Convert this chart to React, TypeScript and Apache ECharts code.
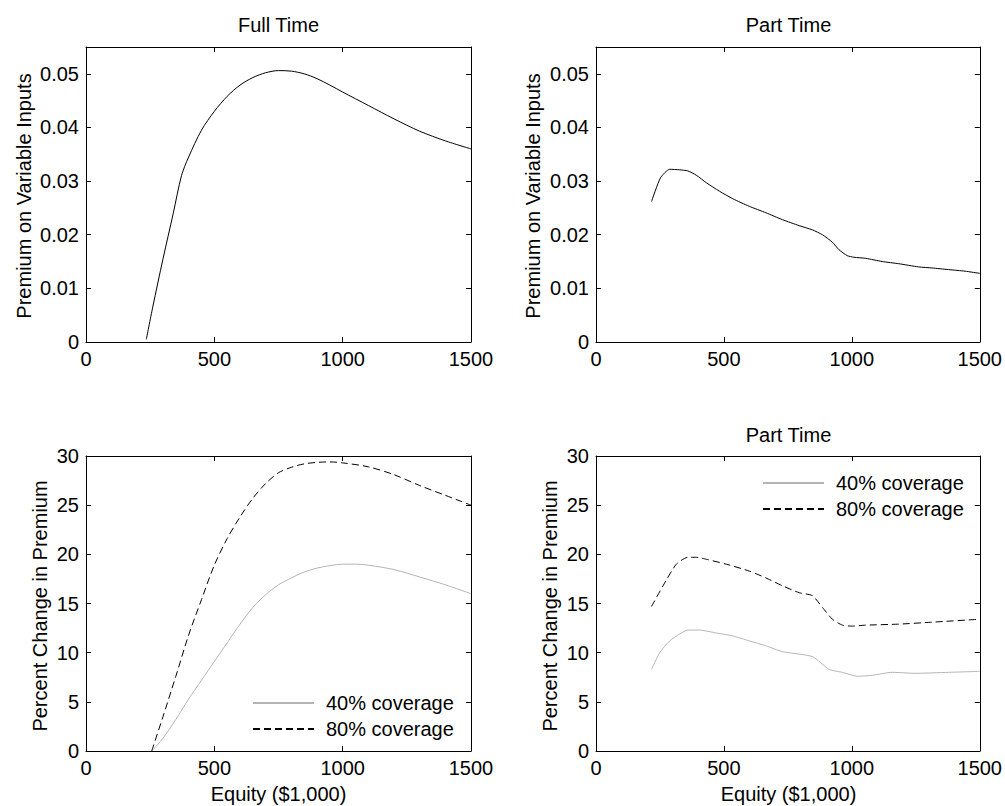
import React, { useEffect, useRef } from "react";
import * as echarts from "echarts";

// Top-left: Full Time premium on variable inputs
const fullTimePremium: [number, number][] = [
  [235, 0.0005], [260, 0.0065], [300, 0.0155], [340, 0.024], [372, 0.031],
  [400, 0.0345], [450, 0.0395], [500, 0.0430], [550, 0.0458], [600, 0.0479],
  [650, 0.0493], [700, 0.0502], [750, 0.0506], [800, 0.0505], [850, 0.0500],
  [900, 0.0491], [950, 0.0479], [1000, 0.0466], [1100, 0.0441], [1200, 0.0416],
  [1300, 0.0393], [1400, 0.0375], [1500, 0.0360],
];

// Top-right: Part Time premium on variable inputs
const partTimePremium: [number, number][] = [
  [217, 0.0262], [252, 0.0306], [288, 0.0322], [327, 0.0321], [359, 0.0319],
  [392, 0.0311], [431, 0.0297], [483, 0.0281], [535, 0.0267], [599, 0.0253],
  [664, 0.0241], [729, 0.0228], [794, 0.0217], [846, 0.0209], [885, 0.0200],
  [924, 0.0186], [950, 0.0172], [982, 0.0161], [1008, 0.0158], [1054, 0.0156],
  [1119, 0.0150], [1183, 0.0146], [1261, 0.0140], [1313, 0.0138], [1378, 0.0135],
  [1443, 0.0132], [1500, 0.0128],
];

// Bottom-left: Full Time percent change in premium
const fullTime40: [number, number][] = [
  [256, 0], [300, 1.3], [350, 3.2], [400, 5.3], [450, 7.2], [500, 9.1],
  [550, 11.0], [600, 12.9], [650, 14.6], [700, 15.9], [750, 16.9], [800, 17.6],
  [850, 18.2], [900, 18.6], [950, 18.85], [1000, 19.0], [1050, 19.0], [1100, 18.9],
  [1200, 18.45], [1300, 17.7], [1400, 16.9], [1500, 16.0],
];
const fullTime80: [number, number][] = [
  [256, 0], [300, 3.5], [350, 7.6], [400, 11.8], [450, 15.4], [500, 18.9],
  [550, 21.6], [600, 23.8], [650, 25.7], [700, 27.2], [750, 28.3], [800, 28.85],
  [850, 29.2], [900, 29.35], [950, 29.4], [1000, 29.3], [1100, 28.9], [1200, 28.1],
  [1300, 27.0], [1400, 26.0], [1500, 25.0],
];

// Bottom-right: Part Time percent change in premium
const partTime40: [number, number][] = [
  [217, 8.3], [249, 10.0], [288, 11.2], [327, 11.9], [359, 12.3], [405, 12.3],
  [470, 12.0], [535, 11.7], [599, 11.2], [664, 10.7], [729, 10.1], [846, 9.6],
  [911, 8.3], [963, 8.0], [1021, 7.6], [1080, 7.7], [1158, 8.0], [1248, 7.9],
  [1378, 8.0], [1500, 8.1],
];
const partTime80: [number, number][] = [
  [217, 14.7], [262, 16.8], [314, 19.0], [359, 19.7], [392, 19.7], [431, 19.5],
  [509, 19.0], [599, 18.3], [664, 17.6], [729, 16.8], [794, 16.1], [846, 15.8],
  [885, 14.6], [924, 13.4], [963, 12.8], [1002, 12.7], [1054, 12.8], [1183, 12.9],
  [1313, 13.1], [1500, 13.4],
];

const titles = ["Full Time", "Part Time", "", "Part Time"];
const yNames = [
  "Premium on Variable Inputs",
  "Premium on Variable Inputs",
  "Percent Change in Premium",
  "Percent Change in Premium",
];
const xName = "Equity ($1,000)";
const legendNames = ["40% coverage", "80% coverage"];

const FONT = "'Liberation Sans', Arial, Helvetica, sans-serif";
const FS = 20;

export default function App() {
  const ref = useRef<HTMLDivElement>(null);
  useEffect(() => {
    if (!ref.current) return;
    const chart = echarts.init(ref.current, undefined, { renderer: "svg" });

    const grids = [
      { left: 86, top: 47, width: 385, height: 295 },
      { left: 596, top: 47, width: 385, height: 295 },
      { left: 86, top: 456, width: 385, height: 295 },
      { left: 596, top: 456, width: 385, height: 295 },
    ];

    const xAxes: any[] = [];
    const yAxes: any[] = [];
    const lineCol = "#000";
    grids.forEach((_, i) => {
      const isTop = i < 2;
      const ymax = isTop ? 0.055 : 30;
      const yint = isTop ? 0.01 : 5;
      xAxes.push({
        type: "value", gridIndex: i, min: 0, max: 1500, interval: 500,
        position: "bottom",
        axisLine: { show: true, onZero: false, lineStyle: { color: lineCol, width: 1 } },
        axisTick: { show: true, inside: true, length: 5, lineStyle: { color: lineCol } },
        axisLabel: {
          margin: 7, color: "#000", fontSize: FS, fontFamily: FONT,
          formatter: (v: number) => String(Math.round(v)),
        },
        splitLine: { show: false },
      });
      xAxes.push({
        type: "value", gridIndex: i, min: 0, max: 1500, interval: 500,
        position: "top",
        axisLine: { show: true, onZero: false, lineStyle: { color: lineCol, width: 1 } },
        axisTick: { show: true, inside: true, length: 5, lineStyle: { color: lineCol } },
        axisLabel: { show: false },
        splitLine: { show: false },
      });
      yAxes.push({
        type: "value", gridIndex: i, min: 0, max: ymax, interval: yint,
        position: "left",
        axisLine: { show: true, onZero: false, lineStyle: { color: lineCol, width: 1 } },
        axisTick: { show: true, inside: true, length: 5, lineStyle: { color: lineCol } },
        axisLabel: {
          margin: 7, color: "#000", fontSize: FS, fontFamily: FONT, showMaxLabel: !isTop,
          formatter: (v: number) => (isTop ? (v === 0 ? "0" : v.toFixed(2)) : String(Math.round(v))),
        },
        splitLine: { show: false },
      });
      yAxes.push({
        type: "value", gridIndex: i, min: 0, max: ymax, interval: yint,
        position: "right",
        axisLine: { show: true, onZero: false, lineStyle: { color: lineCol, width: 1 } },
        axisTick: { show: true, inside: true, length: 5, lineStyle: { color: lineCol } },
        axisLabel: { show: false },
        splitLine: { show: false },
      });
    });

    const gray = "#b4b4b4";
    const dash = [7, 4];
    const series: any[] = [
      {
        type: "line", xAxisIndex: 0, yAxisIndex: 0, data: fullTimePremium, symbol: "none",
        smooth: 0.3, lineStyle: { color: "#000", width: 1 },
      },
      {
        type: "line", xAxisIndex: 2, yAxisIndex: 2, data: partTimePremium, symbol: "none",
        smooth: 0.2, lineStyle: { color: "#000", width: 1 },
      },
      {
        name: legendNames[0], type: "line", xAxisIndex: 4, yAxisIndex: 4, data: fullTime40, symbol: "none",
        smooth: 0.3, lineStyle: { color: gray, width: 1 }, itemStyle: { color: gray },
      },
      {
        name: legendNames[1], type: "line", xAxisIndex: 4, yAxisIndex: 4, data: fullTime80, symbol: "none",
        smooth: 0.3, lineStyle: { color: "#000", width: 1, type: dash }, itemStyle: { color: "#000" },
      },
      {
        name: legendNames[0], type: "line", xAxisIndex: 6, yAxisIndex: 6, data: partTime40, symbol: "none",
        smooth: 0.2, lineStyle: { color: gray, width: 1 }, itemStyle: { color: gray },
      },
      {
        name: legendNames[1], type: "line", xAxisIndex: 6, yAxisIndex: 6, data: partTime80, symbol: "none",
        smooth: 0.2, lineStyle: { color: "#000", width: 1, type: dash }, itemStyle: { color: "#000" },
      },
    ];

    const legendCommon = {
      orient: "vertical",
      itemWidth: 61,
      itemHeight: 14,
      itemGap: 6,
      padding: 0,
      data: legendNames,
      selectedMode: false,
      itemStyle: { opacity: 0 },
      textStyle: { fontSize: FS, fontFamily: FONT, color: "#000", lineHeight: 20, padding: [0, 0, 0, 7] },
    };

    const titleCenters = [
      [278.5, 25], [788.5, 25], [278.5, 435], [788.5, 435],
    ];
    const yNamePos = [
      [24, 196], [533, 196], [40, 606], [550, 606],
    ];
    const xNamePos = [[278.5, 794], [788.5, 794]];

    const graphic: any[] = [];
    titles.forEach((t, i) => {
      if (!t) return;
      graphic.push({
        type: "text", x: titleCenters[i][0], y: titleCenters[i][1],
        style: { text: t, fontSize: FS, fontFamily: FONT, fill: "#000", align: "center", verticalAlign: "middle" },
      });
    });
    yNames.forEach((t, i) => {
      graphic.push({
        type: "text", x: yNamePos[i][0], y: yNamePos[i][1], rotation: Math.PI / 2,
        style: { text: t, fontSize: FS, fontFamily: FONT, fill: "#000", align: "center", verticalAlign: "middle" },
      });
    });
    xNamePos.forEach((p) => {
      graphic.push({
        type: "text", x: p[0], y: p[1],
        style: { text: xName, fontSize: FS, fontFamily: FONT, fill: "#000", align: "center", verticalAlign: "middle" },
      });
    });

    chart.setOption({
      animation: false,
      backgroundColor: "#fff",
      grid: grids.map((g) => ({ ...g, show: false })),
      xAxis: xAxes,
      yAxis: yAxes,
      series,
      legend: [
        { ...legendCommon, left: 252, top: 693 },
        { ...legendCommon, left: 762, top: 473 },
      ],
      graphic,
    });
    return () => chart.dispose();
  }, []);
  return (
    <div
      ref={ref}
      style={{ position: "fixed", left: 0, top: 0, width: 1005, height: 806, background: "#fff" }}
    />
  );
}
